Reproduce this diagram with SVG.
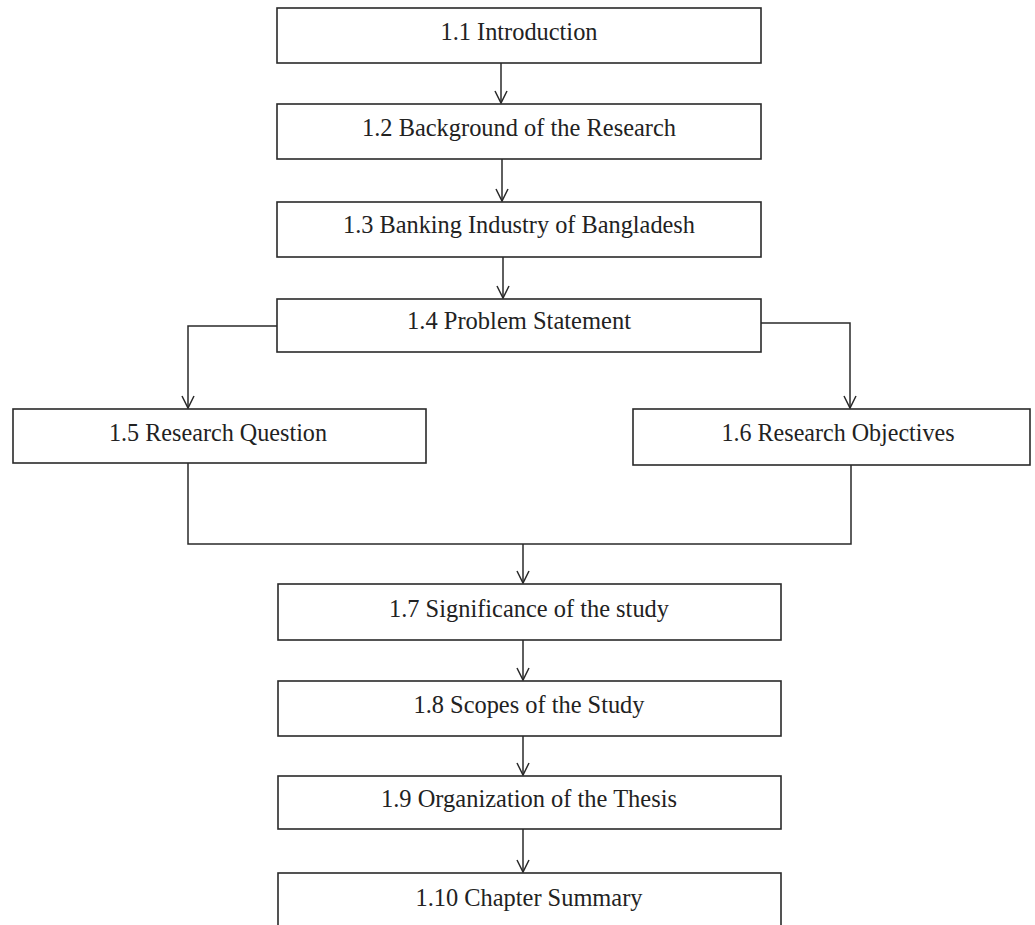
<svg xmlns="http://www.w3.org/2000/svg" width="1035" height="925" viewBox="0 0 1035 925">
<style>
.box{fill:#ffffff;stroke:#2a2a2a;stroke-width:1.6}
.lbl{font-family:"Liberation Serif","Times New Roman",serif;font-size:26px;fill:#222;text-anchor:middle}
.con{fill:none;stroke:#2a2a2a;stroke-width:1.5}
</style>
<defs>
<marker id="arr" viewBox="-13 -7 14 14" refX="0" refY="0" markerWidth="14" markerHeight="14" markerUnits="userSpaceOnUse" orient="auto" overflow="visible">
<path d="M-12,-6 L0,0 L-12,6" fill="none" stroke="#2a2a2a" stroke-width="1.5"/>
</marker>
</defs>
<rect width="1035" height="925" fill="#ffffff"/>
<g id="connectors">
<path class="con" d="M501,63 V103" marker-end="url(#arr)"/>
<path class="con" d="M502,159 V201" marker-end="url(#arr)"/>
<path class="con" d="M503,257 V298" marker-end="url(#arr)"/>
<path class="con" d="M277,326 H188 V408" marker-end="url(#arr)"/>
<path class="con" d="M761,323 H850 V408" marker-end="url(#arr)"/>
<path class="con" d="M188,463 V544 H851 V465"/>
<path class="con" d="M523,544 V583" marker-end="url(#arr)"/>
<path class="con" d="M523,640 V680" marker-end="url(#arr)"/>
<path class="con" d="M523,736 V775" marker-end="url(#arr)"/>
<path class="con" d="M523,829 V872" marker-end="url(#arr)"/>
</g>
<g id="n1"><rect class="box" x="277" y="8" width="484" height="55"/><text class="lbl" x="519" y="40" textLength="157" lengthAdjust="spacingAndGlyphs">1.1 Introduction</text></g>
<g id="n2"><rect class="box" x="277" y="104" width="484" height="55"/><text class="lbl" x="519" y="136" textLength="314" lengthAdjust="spacingAndGlyphs">1.2 Background of the Research</text></g>
<g id="n3"><rect class="box" x="277" y="202" width="484" height="55"/><text class="lbl" x="519" y="233" textLength="352" lengthAdjust="spacingAndGlyphs">1.3 Banking Industry of Bangladesh</text></g>
<g id="n4"><rect class="box" x="277" y="299" width="484" height="53"/><text class="lbl" x="519" y="329" textLength="224" lengthAdjust="spacingAndGlyphs">1.4 Problem Statement</text></g>
<g id="n5"><rect class="box" x="13" y="409" width="413" height="54"/><text class="lbl" x="218" y="441" textLength="218" lengthAdjust="spacingAndGlyphs">1.5 Research Question</text></g>
<g id="n6"><rect class="box" x="633" y="409" width="397" height="56"/><text class="lbl" x="838" y="441" textLength="233" lengthAdjust="spacingAndGlyphs">1.6 Research Objectives</text></g>
<g id="n7"><rect class="box" x="278" y="584" width="503" height="56"/><text class="lbl" x="529" y="617" textLength="280" lengthAdjust="spacingAndGlyphs">1.7 Significance of the study</text></g>
<g id="n8"><rect class="box" x="278" y="681" width="503" height="55"/><text class="lbl" x="529" y="713" textLength="231" lengthAdjust="spacingAndGlyphs">1.8 Scopes of the Study</text></g>
<g id="n9"><rect class="box" x="278" y="776" width="503" height="53"/><text class="lbl" x="529" y="807" textLength="296" lengthAdjust="spacingAndGlyphs">1.9 Organization of the Thesis</text></g>
<g id="n10"><rect class="box" x="278" y="873" width="503" height="60"/><text class="lbl" x="529" y="906" textLength="227" lengthAdjust="spacingAndGlyphs">1.10 Chapter Summary</text></g>
</svg>
